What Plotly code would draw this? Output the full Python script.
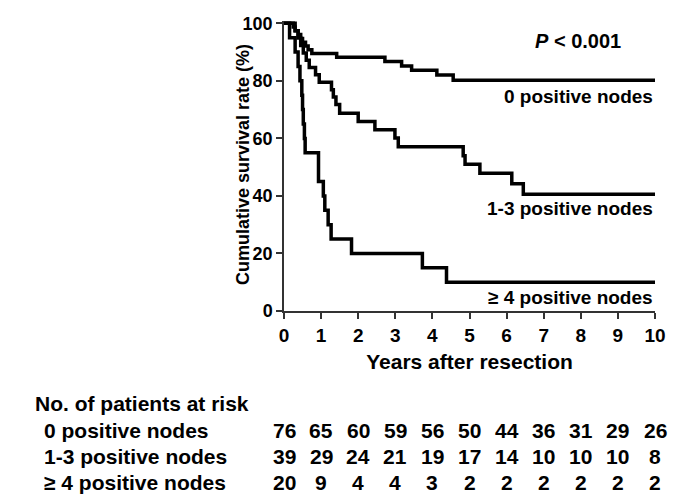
import plotly.graph_objects as go

# Kaplan-Meier steps
years_0 = [0, 0.25, 0.3, 0.38, 0.45, 0.5, 0.58, 0.65, 0.75, 1.42, 2.72, 3.17, 3.44, 4.12, 4.56, 10]
surv_0 = [100, 98.7, 97.4, 96.1, 94.7, 93.4, 92.1, 90.8, 89.5, 88.2, 86.7, 85.2, 83.7, 82.0, 80.2, 80.2]

years_13 = [0, 0.3, 0.38, 0.45, 0.52, 0.6, 0.68, 0.85, 0.95, 1.28, 1.33, 1.4, 1.5, 2.0, 2.45, 2.99, 3.08,
            4.83, 4.88, 5.28, 6.14, 6.45, 10]
surv_13 = [100, 97.4, 94.9, 92.3, 89.7, 87.2, 84.6, 82.1, 79.5, 76.9, 74.4, 71.8, 68.7, 65.9, 63.0, 60.1, 57.1,
           54.0, 51.0, 47.9, 44.2, 40.6, 40.6]

years_4 = [0, 0.15, 0.3, 0.38, 0.43, 0.48, 0.5, 0.52, 0.55, 0.57, 0.93, 1.06, 1.1, 1.19, 1.27, 1.82, 3.73, 4.38, 10]
surv_4 = [100, 95, 90, 85, 80, 75, 70, 65, 60, 55, 45, 40, 35, 30, 25, 20, 15, 10, 10]

group_names = ["0 positive nodes", "1-3 positive nodes", "\u2265 4 positive nodes"]
label_y = [74.5, 35.5, 4.8]

risk_years = list(range(11))
risk_0 = [76, 65, 60, 59, 56, 50, 44, 36, 31, 29, 26]
risk_13 = [39, 29, 24, 21, 19, 17, 14, 10, 10, 10, 8]
risk_4 = [20, 9, 4, 4, 3, 2, 2, 2, 2, 2, 2]

FONT = "Liberation Sans, Arial, sans-serif"

fig = go.Figure()
for xs, ys in [(years_0, surv_0), (years_13, surv_13), (years_4, surv_4)]:
    fig.add_trace(go.Scatter(x=xs, y=ys, mode="lines", line=dict(color="black", width=3.5, shape="hv"),
                             showlegend=False))

# curve labels
for name, yy in zip(group_names, label_y):
    fig.add_annotation(x=10, y=yy, xref="x", yref="y", text="<b>%s</b>" % name, showarrow=False,
                       xanchor="right", yanchor="middle", font=dict(size=19, color="black"))

fig.add_annotation(x=9.14, y=94, xref="x", yref="y", text="<b><i>P</i> &lt; 0.001</b>", showarrow=False,
                   xanchor="right", yanchor="middle", font=dict(size=20, color="black"))

# at-risk table (positions relative to the plot box)
def py(px):
    return (311 - px) / 290.0

def px_(px):
    return (px - 284) / 371.0

# y title as an annotation so it can sit close to the ticks like the original
fig.add_annotation(x=px_(243), y=py(165), xref="paper", yref="paper", textangle=-90,
                   text="<b>Cumulative survival rate (%)</b>", showarrow=False,
                   xanchor="center", yanchor="middle", font=dict(size=18, color="black"))

fig.add_annotation(x=px_(33), y=py(403), xref="paper", yref="paper",
                   text="<b>No. of patients at risk</b>", showarrow=False, xanchor="left", yanchor="middle",
                   font=dict(size=21, color="black"))
for name, counts, row_px in zip(group_names, [risk_0, risk_13, risk_4], [430, 456, 482]):
    fig.add_annotation(x=px_(42), y=py(row_px), xref="paper", yref="paper",
                       text="<b>%s</b>" % name, showarrow=False, xanchor="left", yanchor="middle",
                       font=dict(size=21, color="black"))
    for yr, n in zip(risk_years, counts):
        fig.add_annotation(x=yr, y=py(row_px), xref="x", yref="paper", text="<b>%d</b>" % n,
                           showarrow=False, xanchor="center", yanchor="middle",
                           font=dict(size=21, color="black"))

fig.update_layout(
    width=685, height=502,
    margin=dict(l=276, r=38, t=13, b=199),
    paper_bgcolor="white", plot_bgcolor="white",
    font=dict(family=FONT, color="black"),
)
fig.update_xaxes(range=[0, 10], tickmode="array", tickvals=risk_years, ticks="outside", ticklen=6,
                 tickwidth=1.5, tickcolor="#333", showline=True, linecolor="#333", linewidth=1.5,
                 showgrid=False, zeroline=False, tickfont=dict(size=19, weight="bold"), automargin=False,
                 title=dict(text="<b>Years after resection</b>", font=dict(size=21), standoff=10))
fig.update_yaxes(range=[0, 100.8], tickmode="array", tickvals=[0, 20, 40, 60, 80, 100], ticks="outside",
                 ticklen=6, tickwidth=1.5, tickcolor="#333", showline=True, linecolor="#333", linewidth=1.5,
                 showgrid=False, zeroline=False, tickfont=dict(size=18, weight="bold"), automargin=False)

fig.write_html("out.html")
